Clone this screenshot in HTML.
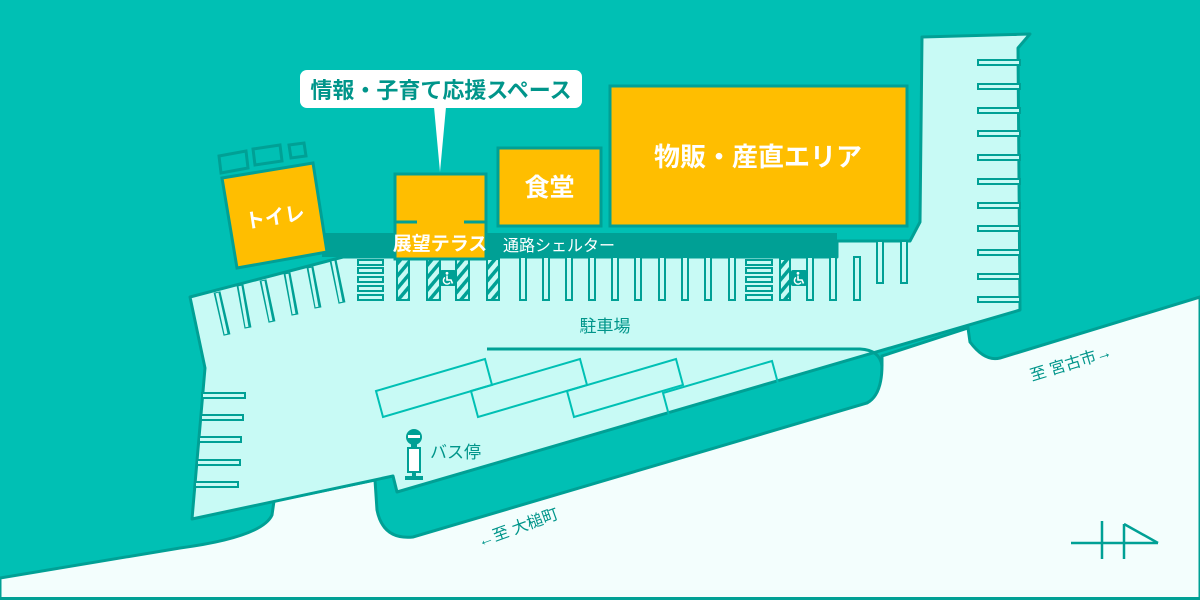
<!DOCTYPE html>
<html><head><meta charset="utf-8"><style>
html,body{margin:0;padding:0;background:#00c0b4}
svg{display:block}
text{font-family:"Liberation Sans","Noto Sans CJK JP",sans-serif}
</style></head><body>
<svg width="1200" height="600" viewBox="0 0 1200 600" xmlns="http://www.w3.org/2000/svg">
<defs>
<pattern id="hatch" width="8" height="8" patternUnits="userSpaceOnUse" patternTransform="rotate(40)">
<rect width="8" height="8" fill="#c8faf5"/><rect width="3.5" height="8" fill="#00a095"/>
</pattern>
<g id="wc">
<rect x="0" y="0" width="16" height="16" rx="2" fill="#00a095"/>
<circle cx="7" cy="3.3" r="1.4" fill="#fff"/>
<path d="M7,5.5 L7,10 L11,10 L12.5,13.5" fill="none" stroke="#fff" stroke-width="1.6"/>
<path d="M5,7.5 A3.6,3.6 0 1 0 10,12.5" fill="none" stroke="#fff" stroke-width="1.4"/>
</g>
</defs>
<rect width="1200" height="600" fill="#00c0b4"/>
<!-- road -->
<path d="M0,578 L180,548 Q262,537 272,515 L274,501 L375,480 L377,510 Q383,540 413,537 L867,403 Q882,395 882,365 L882,356 L968,328 L970,342 Q985,362 1000,358 L1200,297 L1200,600 L0,600 Z" fill="#f3fefd" stroke="#00a095" stroke-width="3"/>
<rect x="0" y="597" width="1200" height="3" fill="#00a095"/>
<!-- parking -->
<path d="M190,297 L343,257 L837,257 L837,241 L910,241 L920,222 L922,37 L1030,34 L1018,48 L1020,310 L397,492 L393,476 L192,519 L205,368 Z" fill="#c8faf5" stroke="#00a095" stroke-width="3" stroke-linejoin="round"/>
<!-- lane line -->
<path d="M487,349 L860,349 Q880,350 882,366" fill="none" stroke="#00a095" stroke-width="3"/>
<!-- bus bays -->
<g fill="none" stroke="#00c0b4" stroke-width="2">
<path d="M376,391 l109,-32 l7,26 l-109,32 Z"/>
<path d="M471,391 l109,-32 l7,26 l-109,32 Z"/>
<path d="M567,391 l109,-32 l7,26 l-109,32 Z"/>
<path d="M663,393 l109,-32 l7,26 l-109,32 Z"/>
</g>
<!-- shelter -->
<rect x="322" y="233" width="515" height="24" fill="#00a095"/>
<!-- vertical stalls -->
<g fill="#c8faf5" stroke="#00a095" stroke-width="2">
<rect x="520" y="257" width="6" height="43"/><rect x="543" y="257" width="6" height="43"/>
<rect x="566" y="257" width="6" height="43"/><rect x="589" y="257" width="6" height="43"/>
<rect x="612" y="257" width="6" height="43"/><rect x="635" y="257" width="6" height="43"/>
<rect x="659" y="257" width="6" height="43"/><rect x="682" y="257" width="6" height="43"/>
<rect x="705" y="257" width="6" height="43"/><rect x="729" y="257" width="6" height="43"/>
<rect x="807" y="257" width="6" height="43"/><rect x="830" y="257" width="6" height="43"/>
<rect x="854" y="257" width="6" height="43"/><rect x="877" y="241" width="6" height="42"/>
<rect x="901" y="241" width="6" height="42"/>
<rect x="358" y="260" width="25" height="5"/><rect x="358" y="268" width="25" height="5"/>
<rect x="358" y="277" width="25" height="5"/><rect x="358" y="286" width="25" height="5"/>
<rect x="358" y="295" width="25" height="5"/>
<rect x="746" y="260" width="26" height="5"/><rect x="746" y="268" width="26" height="5"/>
<rect x="746" y="277" width="26" height="5"/><rect x="746" y="286" width="26" height="5"/>
<rect x="746" y="295" width="26" height="5"/>
</g>
<g fill="url(#hatch)" stroke="#00a095" stroke-width="2">
<rect x="397" y="259" width="12" height="41"/><rect x="427" y="259" width="13" height="41"/>
<rect x="456" y="259" width="13" height="41"/><rect x="487" y="259" width="12" height="41"/>
<rect x="780" y="259" width="10" height="41"/>
</g>
<use href="#wc" x="440" y="270"/>
<use href="#wc" x="791" y="270"/>
<!-- diagonal stalls -->
<g>
<g stroke="#00a095" stroke-width="7">
<line x1="217" y1="292" x2="227" y2="335"/><line x1="240" y1="285" x2="248" y2="328"/>
<line x1="263" y1="280" x2="272" y2="322"/><line x1="287" y1="273" x2="295" y2="315"/>
<line x1="310" y1="267" x2="318" y2="308"/><line x1="333" y1="260" x2="342" y2="303"/>
</g>
<g stroke="#c8faf5" stroke-width="3">
<line x1="217" y1="293" x2="226" y2="334"/><line x1="240" y1="286" x2="247" y2="327"/>
<line x1="263" y1="281" x2="271" y2="321"/><line x1="287" y1="274" x2="294" y2="314"/>
<line x1="310" y1="268" x2="317" y2="307"/><line x1="333" y1="261" x2="341" y2="302"/>
</g>
</g>
<!-- right column stalls -->
<g fill="#c8faf5" stroke="#00a095" stroke-width="2">
<rect x="978" y="60" width="42" height="5"/><rect x="978" y="84" width="42" height="5"/>
<rect x="978" y="108" width="42" height="5"/><rect x="978" y="131" width="42" height="5"/>
<rect x="978" y="155" width="42" height="5"/><rect x="978" y="179" width="42" height="5"/>
<rect x="978" y="203" width="42" height="5"/><rect x="978" y="226" width="42" height="5"/>
<rect x="978" y="250" width="42" height="5"/><rect x="978" y="274" width="42" height="5"/>
<rect x="978" y="297" width="42" height="5"/>
<rect x="202" y="393" width="43" height="5"/><rect x="201" y="415" width="42" height="5"/>
<rect x="199" y="437" width="42" height="5"/><rect x="197" y="460" width="43" height="5"/>
<rect x="195" y="482" width="43" height="5"/>
</g>
<!-- toilet -->
<g fill="none" stroke="#00a095" stroke-width="3">
<polygon points="219,156 246,151 248,168 221,173"/>
<polygon points="253,149 280,145 282,161 255,165"/>
<polygon points="289,145 304,143 306,156 291,158"/>
</g>
<polygon points="222,178 313,163 327,252 237,268" fill="#ffbe00" stroke="#00a095" stroke-width="3"/>
<text x="275" y="224" font-size="20" font-weight="bold" fill="#fff" text-anchor="middle" transform="rotate(-9 275 218)">トイレ</text>
<!-- terrace -->
<rect x="395" y="174" width="91" height="85" fill="#ffbe00" stroke="#00a095" stroke-width="3"/>
<line x1="395" y1="222" x2="417" y2="222" stroke="#00a095" stroke-width="3"/>
<line x1="464" y1="222" x2="486" y2="222" stroke="#00a095" stroke-width="3"/>
<text x="440" y="250" font-size="19" font-weight="bold" fill="#fff" text-anchor="middle">展望テラス</text>
<!-- shokudo -->
<rect x="498" y="148" width="103" height="78" fill="#ffbe00" stroke="#00a095" stroke-width="3"/>
<text x="549.5" y="196" font-size="25" font-weight="bold" fill="#fff" text-anchor="middle">食堂</text>
<!-- bussan -->
<rect x="610" y="86" width="297" height="140" fill="#ffbe00" stroke="#00a095" stroke-width="3"/>
<text x="758" y="166" font-size="26" font-weight="bold" fill="#fff" text-anchor="middle">物販・産直エリア</text>
<text x="503" y="251" font-size="16" fill="#fff">通路シェルター</text>
<!-- callout -->
<rect x="300" y="70" width="282" height="38" rx="7" fill="#fff"/>
<polygon points="434,107 446,107 440,172" fill="#fff"/>
<text x="441" y="98" font-size="22" font-weight="bold" fill="#00958a" text-anchor="middle">情報・子育て応援スペース</text>
<!-- labels -->
<text x="605" y="332" font-size="17" fill="#00958a" text-anchor="middle">駐車場</text>
<g>
<circle cx="414" cy="437" r="8" fill="#00a095"/>
<rect x="408" y="435" width="12" height="3" fill="#fff"/>
<rect x="411" y="444" width="6" height="4" fill="#00a095"/>
<rect x="408" y="448" width="12" height="24" fill="#fff" stroke="#00a095" stroke-width="2"/>
<rect x="412" y="472" width="4" height="4" fill="#00a095"/>
<rect x="405" y="476" width="18" height="4" fill="#00a095"/>
</g>
<text x="430" y="458" font-size="17" fill="#00958a">バス停</text>
<text x="480" y="547" font-size="16" fill="#00958a" transform="rotate(-20 480 547)">←至 大槌町</text>
<text x="1032" y="381" font-size="16" fill="#00958a" transform="rotate(-17 1032 381)">至 宮古市→</text>
<!-- north -->
<g stroke="#00a095" stroke-width="2.5" fill="none">
<line x1="1071" y1="543" x2="1158" y2="543"/>
<line x1="1102" y1="521" x2="1102" y2="559"/>
<line x1="1124" y1="524" x2="1124" y2="559"/>
<line x1="1124" y1="524" x2="1158" y2="543"/>
</g>
</svg>
</body></html>
